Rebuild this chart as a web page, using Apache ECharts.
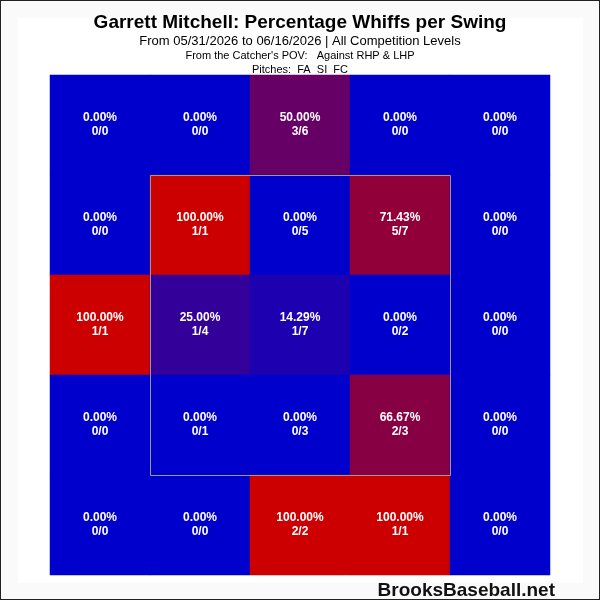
<!DOCTYPE html>
<html>
<head>
<meta charset="utf-8">
<script src="https://cdn.jsdelivr.net/npm/echarts@6/dist/echarts.min.js"></script>
<style>
  html, body { margin: 0; padding: 0; background: #fff; }
  #chart { width: 600px; height: 600px; box-sizing: border-box; border: 1px solid #222; background: #fafafa; }
</style>
</head>
<body>
<div id="chart"></div>
<script>
// zone grid, read top row first (catcher's POV)
const cols = ['c0', 'c1', 'c2', 'c3', 'c4']
const rows = ['r0', 'r1', 'r2', 'r3', 'r4']

const pctRows = [
  [0, 0, 50, 0, 0],
  [0, 100, 0, 71.43, 0],
  [100, 25, 14.29, 0, 0],
  [0, 0, 0, 66.67, 0],
  [0, 0, 100, 100, 0]
]
const whiffRows = [
  [0, 0, 3, 0, 0],
  [0, 1, 0, 5, 0],
  [1, 1, 1, 0, 0],
  [0, 0, 0, 2, 0],
  [0, 0, 2, 1, 0]
]
const swingRows = [
  [0, 0, 6, 0, 0],
  [0, 1, 5, 7, 0],
  [1, 4, 7, 2, 0],
  [0, 1, 3, 3, 0],
  [0, 0, 2, 1, 0]
]

const FONT = '"Liberation Sans", Arial, sans-serif'

const cells = []
rows.forEach((r, ri) => {
  cols.forEach((c, ci) => {
    cells.push([ci, ri, pctRows[ri][ci], whiffRows[ri][ci], swingRows[ri][ci]])
  })
})

const chart = echarts.init(document.getElementById('chart'))

chart.setOption({
  animation: false,
  textStyle: { fontFamily: FONT },
  title: [
    {
      text: 'Garrett Mitchell: Percentage Whiffs per Swing',
      left: 'center', top: 7,
      textStyle: { fontSize: 19, fontWeight: 'bold', color: '#000', fontFamily: FONT }
    },
    {
      text: 'From 05/31/2026 to 06/16/2026 | All Competition Levels',
      left: 'center', top: 29,
      textStyle: { fontSize: 13, fontWeight: 'normal', color: '#000', fontFamily: FONT }
    },
    {
      text: "From the Catcher's POV:   Against RHP & LHP",
      left: 'center', top: 44,
      textStyle: { fontSize: 11, fontWeight: 'normal', color: '#000', fontFamily: FONT }
    },
    {
      text: 'Pitches:  FA  SI  FC',
      left: 'center', top: 58,
      textStyle: { fontSize: 11, fontWeight: 'normal', color: '#000', fontFamily: FONT }
    },
    {
      text: 'BrooksBaseball.net',
      right: 39, top: 575,
      textStyle: { fontSize: 19, fontWeight: 'bold', color: '#111', fontFamily: FONT }
    }
  ],
  grid: { left: 49, top: 74, width: 500, height: 500 },
  xAxis: {
    type: 'category', data: cols,
    axisLine: { show: false }, axisTick: { show: false }, axisLabel: { show: false },
    splitLine: { show: false }
  },
  yAxis: {
    type: 'category', data: rows, inverse: true,
    axisLine: { show: false }, axisTick: { show: false }, axisLabel: { show: false },
    splitLine: { show: false }
  },
  visualMap: {
    show: false, min: 0, max: 100, dimension: 2,
    inRange: { color: ['#0000CC', '#CC0000'] }
  },
  series: [{
    type: 'heatmap',
    data: cells,
    label: {
      show: true,
      color: '#fff',
      fontSize: 12,
      fontWeight: 'bold',
      lineHeight: 14,
      fontFamily: FONT,
      formatter: p => `${p.value[2].toFixed(2)}%\n${p.value[3]}/${p.value[4]}`
    },
    itemStyle: { borderWidth: 0 },
    emphasis: { disabled: true }
  }]
})

// strike zone box over the middle 3x3 cells
const p0 = chart.convertToPixel({ gridIndex: 0 }, [1, 1])
const p1 = chart.convertToPixel({ gridIndex: 0 }, [3, 3])
const half = 50
chart.setOption({
  graphic: [
    {
      type: 'rect', z: 0, silent: true,
      shape: { x: 17, y: 17, width: 565, height: 565 },
      style: { fill: '#fff' }
    },
    {
      type: 'rect', z: 100, silent: true,
      shape: { x: p0[0] - half + 0.5, y: p0[1] - half + 0.5, width: p1[0] - p0[0] + 2 * half, height: p1[1] - p0[1] + 2 * half },
      style: { fill: 'none', stroke: '#999', lineWidth: 1 }
    }
  ]
})
</script>
</body>
</html>
